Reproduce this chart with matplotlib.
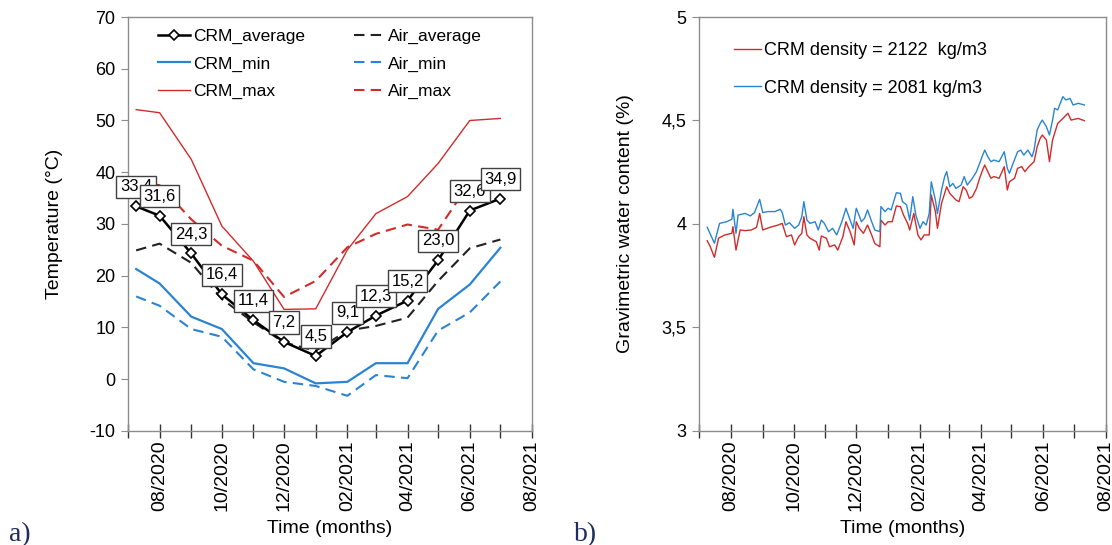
import numpy as np
import matplotlib.pyplot as plt
import matplotlib.dates as mdates
from matplotlib.ticker import FuncFormatter

plt.rcParams['font.family'] = ['Liberation Sans', 'DejaVu Sans']
plt.rcParams['axes.unicode_minus'] = False

# a) monthly temperatures
months = ['2020-07-09', '2020-08-01', '2020-09-01', '2020-10-01', '2020-11-01',
          '2020-12-01', '2021-01-01', '2021-02-01', '2021-03-01', '2021-04-01',
          '2021-05-01', '2021-06-01', '2021-07-01']
crm_avg = [33.4, 31.6, 24.3, 16.4, 11.4, 7.2, 4.5, 9.1, 12.3, 15.2, 23.0, 32.6, 34.9]
crm_min = [21.3, 18.5, 12.1, 9.7, 3.1, 2.1, -0.8, -0.5, 3.1, 3.1, 13.6, 18.3, 25.4]
crm_max = [52.1, 51.5, 42.5, 29.6, 22.8, 13.5, 13.6, 25.0, 32.0, 35.3, 41.7, 50.0, 50.4]
air_avg = [24.9, 26.2, 22.5, 15.5, 11.0, 7.1, 5.5, 9.4, 10.3, 11.9, 19.0, 25.3, 27.0]
air_min = [16.0, 14.2, 9.7, 8.2, 1.9, -0.5, -1.3, -3.2, 0.8, 0.2, 9.4, 12.9, 18.9]
air_max = [38.2, 37.5, 30.9, 25.8, 22.9, 15.9, 19.0, 25.5, 28.1, 29.9, 28.9, 38.0, 38.0]

# b) gravimetric water content, days counted from 2020-07-01
day_2081 = [8, 15, 20, 27, 32, 33, 36, 38, 45, 50, 54, 59, 62, 67, 74, 79, 81, 84, 88, 93,
            97, 100, 102, 105, 108, 113, 116, 119, 122, 126, 130, 134, 139, 143, 147, 150,
            153, 155, 158, 161, 164, 168, 171, 176, 177, 181, 184, 187, 192, 196, 198, 202,
            205, 208, 211, 215, 218, 221, 224, 226, 230, 232, 236, 239, 241, 244, 247, 250,
            255, 258, 261, 266, 270, 273, 276, 278, 281, 284, 287, 292, 297, 300, 302, 305,
            310, 313, 316, 320, 324, 326, 329, 332, 334, 338, 341, 344, 346, 349, 354, 357,
            361, 364, 369, 375]
wc_2081 = [3.984, 3.907, 4.003, 4.011, 4.023, 4.071, 3.955, 4.043, 4.051, 4.039, 4.055,
           4.119, 4.055, 4.060, 4.060, 4.071, 4.055, 3.995, 4.006, 3.979, 3.995, 4.035,
           4.108, 4.019, 4.003, 4.011, 3.971, 4.019, 4.003, 3.963, 3.979, 3.947, 4.011,
           4.076, 4.019, 3.979, 4.076, 4.051, 4.011, 4.027, 4.068, 4.011, 3.971, 3.963,
           4.084, 4.060, 4.076, 4.068, 4.151, 4.148, 4.108, 4.092, 4.019, 4.132, 4.043,
           3.979, 4.011, 3.995, 4.051, 4.204, 4.116, 4.051, 4.164, 4.229, 4.253, 4.180,
           4.196, 4.172, 4.188, 4.229, 4.188, 4.221, 4.253, 4.293, 4.333, 4.357, 4.325,
           4.301, 4.309, 4.301, 4.349, 4.269, 4.245, 4.285, 4.349, 4.357, 4.333, 4.357,
           4.325, 4.357, 4.454, 4.486, 4.502, 4.470, 4.430, 4.502, 4.559, 4.551, 4.615,
           4.599, 4.607, 4.575, 4.583, 4.575]
day_2122 = [8, 11, 15, 19, 25, 32, 33, 36, 40, 45, 51, 56, 59, 62, 69, 77, 81, 85, 90, 93,
            97, 100, 102, 105, 108, 114, 117, 119, 124, 127, 132, 135, 140, 143, 147, 151,
            153, 156, 160, 164, 168, 171, 176, 177, 181, 184, 188, 192, 196, 199, 203, 205,
            209, 213, 216, 219, 224, 226, 230, 232, 236, 241, 244, 247, 250, 253, 257, 260,
            263, 266, 270, 273, 276, 278, 281, 284, 287, 292, 297, 300, 302, 307, 310, 314,
            317, 321, 326, 329, 332, 334, 338, 341, 344, 347, 349, 354, 359, 362, 369, 375]
wc_2122 = [3.919, 3.890, 3.839, 3.931, 3.947, 3.955, 3.987, 3.874, 3.971, 3.968, 3.971,
           3.984, 4.051, 3.971, 3.984, 3.995, 4.003, 3.939, 3.947, 3.899, 3.939, 3.955,
           4.035, 3.947, 3.931, 3.915, 3.874, 3.942, 3.931, 3.890, 3.899, 3.874, 3.939,
           4.011, 3.963, 3.899, 4.011, 3.979, 3.955, 3.995, 3.947, 3.906, 3.890, 4.019,
           3.995, 4.011, 4.011, 4.087, 4.084, 4.043, 4.003, 3.971, 4.051, 3.947, 3.923,
           3.947, 3.947, 4.140, 4.060, 3.979, 4.100, 4.180, 4.148, 4.132, 4.116, 4.108,
           4.180, 4.164, 4.124, 4.132, 4.172, 4.221, 4.261, 4.285, 4.253, 4.221, 4.229,
           4.221, 4.277, 4.164, 4.204, 4.221, 4.269, 4.277, 4.253, 4.277, 4.301, 4.373,
           4.414, 4.430, 4.406, 4.301, 4.406, 4.454, 4.486, 4.510, 4.535, 4.502, 4.510,
           4.499]

BLUE = '#2A84D2'
RED = '#D22B2B'
GREY = '#8C8C8C'

t = np.array(months, dtype='datetime64[D]')
t0 = np.datetime64('2020-07-01')

fig = plt.figure(figsize=(11.12, 5.45), dpi=100)
ax1 = fig.add_axes([0.1151, 0.2092, 0.3633, 0.7596])
ax2 = fig.add_axes([0.6286, 0.2092, 0.3660, 0.7596])

dash = (5, 3)
ax1.plot(t, crm_avg, color='black', lw=1.8, marker='D', ms=5.5, mfc='white', mec='black',
         mew=1.2, label='CRM_average', zorder=5)
ax1.plot(t, crm_min, color=BLUE, lw=1.6, label='CRM_min')
ax1.plot(t, crm_max, color=RED, lw=1.0, label='CRM_max')
ax1.plot(t, air_avg, color='#222222', lw=1.5, dashes=dash, label='Air_average')
ax1.plot(t, air_min, color=BLUE, lw=1.5, dashes=dash, label='Air_min')
ax1.plot(t, air_max, color=RED, lw=1.5, dashes=dash, label='Air_max')

# value boxes above the CRM average points
for d, v in zip(t, crm_avg):
    ax1.annotate(f'{v:.1f}'.replace('.', ','), (d, v), xytext=(0, 14), textcoords='offset points',
                 ha='center', va='center', fontsize=12,
                 bbox=dict(boxstyle='square,pad=0.22', fc='white', ec='#404040', lw=1.0),
                 zorder=10)

ax1.set_ylim(-10, 70)
ax1.set_yticks(range(-10, 71, 10))
ax1.set_ylabel('Temperature (°C)', fontsize=14)
ax1.yaxis.set_label_coords(-0.16, 0.5)
ax1.legend(ncol=2, loc='upper left', bbox_to_anchor=(0.075, 0.972), frameon=False,
           fontsize=12.5, handlelength=1.8, handletextpad=0.2, columnspacing=2.8,
           labelspacing=0.72, borderaxespad=0, borderpad=0)

ax2.plot(t0 + np.array(day_2122), wc_2122, color=RED, lw=1.0, label='CRM density = 2122  kg/m3')
ax2.plot(t0 + np.array(day_2081), wc_2081, color=BLUE, lw=1.0, label='CRM density = 2081 kg/m3')
ax2.set_ylim(3, 5)
ax2.set_yticks([3, 3.5, 4, 4.5, 5])
ax2.yaxis.set_major_formatter(FuncFormatter(lambda v, p: f'{v:g}'.replace('.', ',')))
ax2.set_ylabel('Gravimetric water content (%)', fontsize=14)
ax2.yaxis.set_label_coords(-0.16, 0.5)
ax2.legend(loc='upper left', bbox_to_anchor=(0.085, 0.94), frameon=False, fontsize=13,
           handlelength=1.5, handletextpad=0.2, labelspacing=1.15, borderaxespad=0, borderpad=0)

for ax in (ax1, ax2):
    ax.set_xlim(np.datetime64('2020-07-01'), np.datetime64('2021-08-01'))
    ax.xaxis.set_major_locator(mdates.MonthLocator(bymonth=[2, 4, 6, 8, 10, 12]))
    ax.xaxis.set_minor_locator(mdates.MonthLocator())
    ax.xaxis.set_major_formatter(mdates.DateFormatter('%m/%Y'))
    ax.tick_params(axis='x', which='both', direction='inout', length=10, width=1,
                   color='#333333', labelrotation=90, labelsize=14, pad=2)
    ax.tick_params(axis='y', direction='out', length=5, color=GREY, labelsize=13, pad=4)
    for s in ax.spines.values():
        s.set_color(GREY)
        s.set_linewidth(1.0)
    ax.set_xlabel('Time (months)', fontsize=14)
    ax.xaxis.set_label_coords(0.5, -0.215)

fig.text(0.008, 0.008, 'a)', fontsize=20, color='#1F2D5A', family=['Liberation Serif', 'DejaVu Serif'])
fig.text(0.516, 0.008, 'b)', fontsize=20, color='#1F2D5A', family=['Liberation Serif', 'DejaVu Serif'])

fig.savefig('out.png', dpi=100)
